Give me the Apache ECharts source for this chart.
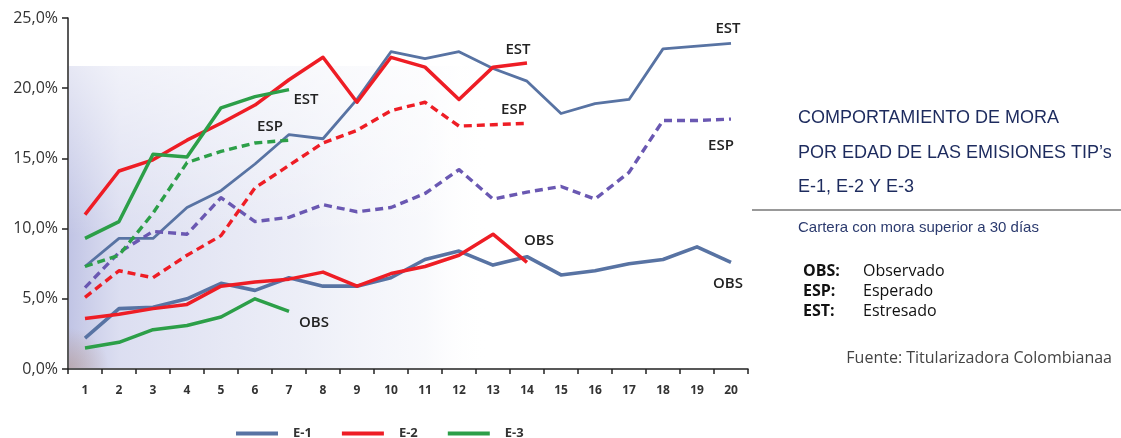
<!DOCTYPE html>
<html>
<head>
<meta charset="utf-8">
<script src="https://cdn.jsdelivr.net/npm/echarts@6/dist/echarts.min.js"></script>
<style>
  html, body { margin: 0; padding: 0; background: #fff; }
  #chart { width: 1121px; height: 438px; }
</style>
</head>
<body>
<div id="chart"></div>
<script>
// Edad de la emisión (meses / periodos)
const categories = ['1','2','3','4','5','6','7','8','9','10','11','12','13','14','15','16','17','18','19','20'];
const yTicks = [0, 5, 10, 15, 20, 25];

// E-1 (porcentaje de cartera con mora > 30 días)
const e1Est = [7.3, 9.3, 9.3, 11.5, 12.7, 14.6, 16.7, 16.4, 19.2, 22.6, 22.1, 22.6, 21.4, 20.5, 18.2, 18.9, 19.2, 22.8, 23.0, 23.2];
const e1Esp = [5.8, 8.3, 9.8, 9.6, 12.2, 10.5, 10.8, 11.7, 11.2, 11.5, 12.5, 14.2, 12.1, 12.6, 13.0, 12.1, 14.0, 17.7, 17.7, 17.8];
const e1Obs = [2.2, 4.3, 4.4, 5.0, 6.1, 5.6, 6.5, 5.9, 5.9, 6.5, 7.8, 8.4, 7.4, 8.0, 6.7, 7.0, 7.5, 7.8, 8.7, 7.6];

// E-2
const e2Est = [11.0, 14.1, 14.9, 16.3, 17.5, 18.8, 20.6, 22.2, 19.0, 22.2, 21.5, 19.2, 21.5, 21.8];
const e2Esp = [5.1, 7.0, 6.5, 8.1, 9.5, 12.9, 14.5, 16.1, 17.0, 18.4, 19.0, 17.3, 17.4, 17.5];
const e2Obs = [3.6, 3.9, 4.3, 4.6, 5.9, 6.2, 6.4, 6.9, 5.9, 6.8, 7.3, 8.1, 9.6, 7.6];

// E-3
const e3Est = [9.3, 10.5, 15.3, 15.1, 18.6, 19.4, 19.9];
const e3Esp = [7.3, 8.1, 11.1, 14.7, 15.5, 16.1, 16.3];
const e3Obs = [1.5, 1.9, 2.8, 3.1, 3.7, 5.0, 4.1];

const C_E1 = '#5873a3';
const C_E1_ESP = '#6a58b2';
const C_E2 = '#ee1d25';
const C_E3 = '#2c9f48';
const TXT = "'Open Sans', 'Liberation Sans', sans-serif";
const TITLE_FONT = "'Liberation Sans', 'Open Sans', sans-serif";

function lineSeries(name, data, color, width, dashed) {
  return {
    name: name,
    type: 'line',
    data: data,
    symbol: 'none',
    smooth: false,
    connectNulls: false,
    color: color,
    lineStyle: {
      color: color,
      width: width,
      type: dashed ? [8, 5] : 'solid',
      cap: 'butt',
      join: 'round'
    },
    emphasis: { disabled: true },
    z: 3
  };
}

function tag(text, x, y) {
  return {
    type: 'text', x: x, y: y, z: 10,
    style: {
      text: text, fill: '#222', font: "600 15px " + TXT,
      align: 'center', verticalAlign: 'middle'
    }
  };
}

function sideText(text, x, y, font, color, align) {
  return {
    type: 'text', x: x, y: y,
    style: { text: text, fill: color, font: font, align: align || 'left', verticalAlign: 'middle' }
  };
}

const chart = echarts.init(document.getElementById('chart'), null, { renderer: 'canvas' });

chart.setOption({
  animation: false,
  backgroundColor: '#ffffff',
  grid: { left: 68, right: 373, top: 18, bottom: 69, containLabel: false },
  xAxis: {
    type: 'category',
    data: categories,
    boundaryGap: true,
    axisLine: { lineStyle: { color: '#222', width: 1.5 } },
    axisTick: { show: true, length: 5, interval: 0, lineStyle: { color: '#222', width: 1.5 } },
    axisLabel: {
      interval: 0, margin: 16, color: '#333',
      fontFamily: TXT, fontSize: 12, fontWeight: 'bold'
    },
    splitLine: { show: false }
  },
  yAxis: {
    type: 'value',
    min: yTicks[0],
    max: yTicks[yTicks.length - 1],
    interval: yTicks[1] - yTicks[0],
    axisLine: { show: true, lineStyle: { color: '#222', width: 1.5 } },
    axisTick: { show: true, length: 6, lineStyle: { color: '#222', width: 1.5 } },
    axisLabel: {
      margin: 10, color: '#333', fontFamily: TXT, fontSize: 16,
      formatter: v => v.toFixed(1).replace('.', ',') + '%'
    },
    splitLine: { show: false }
  },
  legend: {
    data: ['E-1', 'E-2', 'E-3'],
    left: 231,
    top: 422,
    icon: 'rect',
    itemWidth: 42,
    itemHeight: 4,
    itemGap: 30,
    textStyle: { color: '#333', fontFamily: TXT, fontSize: 13, fontWeight: 'bold', padding: [0, 0, 0, 10] },
    selectedMode: false
  },
  series: [
    lineSeries('E-1', e1Est, C_E1, 2.8, false),
    lineSeries('E-1', e1Obs, C_E1, 3.6, false),
    lineSeries('E-1', e1Esp, C_E1_ESP, 3.4, true),
    lineSeries('E-2', e2Est, C_E2, 3.5, false),
    lineSeries('E-2', e2Obs, C_E2, 3.5, false),
    lineSeries('E-2', e2Esp, C_E2, 3.4, true),
    lineSeries('E-3', e3Est, C_E3, 3.5, false),
    lineSeries('E-3', e3Obs, C_E3, 3.5, false),
    lineSeries('E-3', e3Esp, C_E3, 3.4, true)
  ],
  graphic: [
    // soft cloudy backdrop behind the plot
    {
      type: 'rect', z: -10, silent: true,
      shape: { x: 69, y: 66, width: 420, height: 302 },
      style: {
        fill: new echarts.graphic.LinearGradient(0, 0, 1, 0, [
          { offset: 0, color: 'rgba(186,190,226,0.9)' },
          { offset: 0.12, color: 'rgba(208,211,236,0.75)' },
          { offset: 0.55, color: 'rgba(224,227,242,0.6)' },
          { offset: 0.85, color: 'rgba(238,240,248,0.4)' },
          { offset: 1, color: 'rgba(255,255,255,0)' }
        ])
      }
    },
    {
      type: 'rect', z: -9, silent: true,
      shape: { x: 69, y: 66, width: 420, height: 170 },
      style: {
        fill: new echarts.graphic.LinearGradient(0, 0, 0, 1, [
          { offset: 0, color: 'rgba(255,255,255,0.6)' },
          { offset: 1, color: 'rgba(255,255,255,0)' }
        ])
      }
    },
    {
      type: 'rect', z: -8, silent: true,
      shape: { x: 69, y: 318, width: 40, height: 50 },
      style: {
        fill: new echarts.graphic.RadialGradient(0, 1, 1, [
          { offset: 0, color: 'rgba(175,135,115,0.45)' },
          { offset: 1, color: 'rgba(175,135,115,0)' }
        ])
      }
    },

    // line tags
    tag('EST', 306, 100), tag('ESP', 270, 127), tag('OBS', 314, 323),
    tag('EST', 518, 50), tag('ESP', 514, 110), tag('OBS', 539, 241),
    tag('EST', 728, 29), tag('ESP', 721, 146), tag('OBS', 728, 284),

    // side panel
    sideText('COMPORTAMIENTO DE MORA', 798, 118, '18px ' + TITLE_FONT, '#1d2b5e'),
    sideText('POR EDAD DE LAS EMISIONES TIP\u2019s', 798, 153, '18px ' + TITLE_FONT, '#1d2b5e'),
    sideText('E-1, E-2 Y E-3', 798, 187, '18px ' + TITLE_FONT, '#1d2b5e'),
    {
      type: 'line', shape: { x1: 752, y1: 210, x2: 1121, y2: 210 },
      style: { stroke: '#777', lineWidth: 1.5 }
    },
    sideText('Cartera con mora superior a 30 días', 798, 228, '15px ' + TITLE_FONT, '#2b3a6e'),
    sideText('OBS:', 803, 271, 'bold 16px ' + TXT, '#111'),
    sideText('Observado', 863, 271, '16px ' + TXT, '#111'),
    sideText('ESP:', 803, 291, 'bold 16px ' + TXT, '#111'),
    sideText('Esperado', 863, 291, '16px ' + TXT, '#111'),
    sideText('EST:', 803, 311, 'bold 16px ' + TXT, '#111'),
    sideText('Estresado', 863, 311, '16px ' + TXT, '#111'),
    sideText('Fuente: Titularizadora Colombianaa', 1112, 358, '16px ' + TXT, '#444', 'right')
  ]
});
</script>
</body>
</html>
